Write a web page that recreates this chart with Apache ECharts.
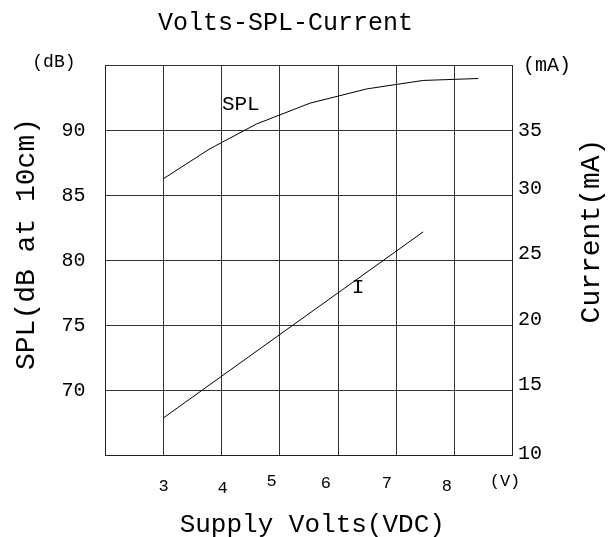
<!DOCTYPE html>
<html>
<head>
<meta charset="utf-8">
<script src="https://cdn.jsdelivr.net/npm/echarts@6/dist/echarts.min.js"></script>
<style>html,body{margin:0;padding:0;background:#fff}#c{width:608px;height:537px}</style>
</head>
<body>
<div id="c"></div>
<script>
// ---- data ----
const splVolts = [3, 3.8, 4.6, 5.52, 6.5, 7.47, 8.42];
const splValues = [86.3, 88.6, 90.5, 92.1, 93.2, 93.85, 94.0];
const curVolts = [3, 5, 7.47];
const curValues = [12.9, 19.3, 27.2];
const xTicks = [3, 4, 5, 6, 7, 8];
const xUnit = '(V)';
const splTicks = [70, 75, 80, 85, 90];
const splUnit = '(dB)';
const curTicks = [10, 15, 20, 25, 30, 35];
const curUnit = '(mA)';
const splNote = {text: 'SPL', at: [4.33, 91.98]};
const curNote = {text: 'I', at: [6.35, 22.9]};

// ---- styles ----
const FONT = 'Liberation Mono';
const xLabelPad = {3:[5,0,0,0], 4:[7,0,0,2], 5:[0,16,0,0], 6:[2,24,0,0], 7:[2,18,0,0], 8:[5,14,0,0]};
const rLabelPad = {35:[0,0,0,0], 30:[0,0,14,0], 25:[0,0,14,0], 20:[0,0,12,0], 15:[0,0,12,0], 10:[0,0,4,0]};

const xRich = {u: {padding: [0,14,0,0], fontSize: 17, fontFamily: FONT, color: '#000'}};
xTicks.forEach(t => { xRich['x' + t] = {padding: xLabelPad[t] || [0,0,0,0], fontSize: 17, fontFamily: FONT, color: '#000'}; });
const rRich = {u: {padding: [0,0,0,5], fontSize: 20, fontFamily: FONT, color: '#000'}};
curTicks.forEach(t => { rRich['r' + t] = {padding: rLabelPad[t] || [0,0,0,0], fontSize: 20, fontFamily: FONT, color: '#000'}; });

const gridLine = {show: true, lineStyle: {color: '#333', width: 1}};
const axLine = {show: true, lineStyle: {color: '#222', width: 1}};

const chart = echarts.init(document.getElementById('c'), null, {renderer: 'canvas'});
chart.setOption({
  animation: false,
  backgroundColor: '#fff',
  title: {
    text: 'Volts-SPL-Current', left: 153, top: 6,
    textStyle: {fontFamily: FONT, fontSize: 25, fontWeight: 'normal', color: '#000'}
  },
  grid: {left: 105.5, right: 96, top: 65.5, bottom: 81.5, containLabel: false, outerBoundsMode: 'none'},
  xAxis: {
    type: 'value', min: 2, max: 9, interval: 1,
    axisLine: axLine, axisTick: {show: false}, splitLine: gridLine,
    axisLabel: {
      margin: 17, fontFamily: FONT, fontSize: 17, color: '#000',
      formatter: v => {
        if (v === 9) return '{u|' + xUnit + '}';
        if (xTicks.indexOf(v) >= 0) return '{x' + v + '|' + v + '}';
        return '';
      },
      rich: xRich
    },
    name: 'Supply Volts(VDC)', nameLocation: 'middle', nameGap: 57, nameMoveOverlap: false,
    nameTextStyle: {fontFamily: FONT, fontSize: 26, color: '#000', padding: [0,0,0,7], lineHeight: 26}
  },
  yAxis: [{
    type: 'value', position: 'left', min: 65, max: 95, interval: 5,
    axisLine: axLine, axisTick: {show: false}, splitLine: gridLine,
    axisLabel: {
      margin: 20, fontFamily: FONT, fontSize: 20, color: '#000',
      formatter: v => {
        if (v === 95) return '{u|' + splUnit + '}';
        if (splTicks.indexOf(v) >= 0) return String(v);
        return '';
      },
      rich: {u: {padding: [0,10,6,0], fontSize: 18, fontFamily: FONT, color: '#000'}}
    },
    name: 'SPL(dB at 10cm)', nameLocation: 'middle', nameRotate: 90, nameGap: 65, nameMoveOverlap: false,
    nameTextStyle: {fontFamily: FONT, fontSize: 28, color: '#000', padding: [0,0,0,33]}
  }, {
    type: 'value', position: 'right', min: 10, max: 40, interval: 5,
    axisLine: axLine, axisTick: {show: false}, splitLine: {show: false},
    axisLabel: {
      margin: 6, fontFamily: FONT, fontSize: 20, color: '#000',
      formatter: v => {
        if (v === 40) return '{u|' + curUnit + '}';
        if (curTicks.indexOf(v) >= 0) return '{r' + v + '|' + v + '}';
        return '';
      },
      rich: rRich
    },
    name: 'Current(mA)', nameLocation: 'middle', nameRotate: 90, nameGap: 66, nameMoveOverlap: false,
    nameTextStyle: {fontFamily: FONT, fontSize: 28, color: '#000', padding: [0,0,0,59]}
  }],
  series: [{
    type: 'line', yAxisIndex: 0, showSymbol: false, symbol: 'none',
    data: splVolts.map((x, i) => [x, splValues[i]]),
    lineStyle: {color: '#000', width: 1},
    markPoint: {
      symbol: 'rect', symbolSize: 0,
      data: [{coord: splNote.at, label: {show: true, position: 'inside', formatter: splNote.text, color: '#000', fontFamily: FONT, fontSize: 21}}]
    }
  }, {
    type: 'line', yAxisIndex: 1, showSymbol: false, symbol: 'none',
    data: curVolts.map((x, i) => [x, curValues[i]]),
    lineStyle: {color: '#000', width: 1},
    markPoint: {
      symbol: 'rect', symbolSize: 0,
      data: [{coord: curNote.at, label: {show: true, position: 'inside', formatter: curNote.text, color: '#000', fontFamily: FONT, fontSize: 21}}]
    }
  }]
});
</script>
</body>
</html>
